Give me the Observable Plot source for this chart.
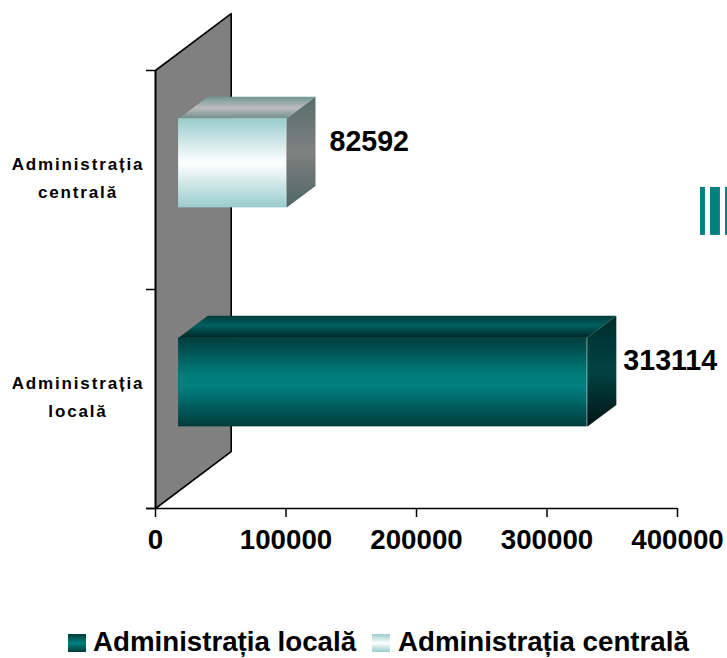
<!DOCTYPE html>
<html><head><meta charset="utf-8">
<script src="https://cdn.jsdelivr.net/npm/d3@7"></script>
<script src="https://cdn.jsdelivr.net/npm/@observablehq/plot@0.6"></script>
<style>
html,body{margin:0;padding:0;background:#fff;width:727px;overflow:hidden}
#legend{height:38px;position:relative;font:bold 27.7px "Liberation Sans",Arial,sans-serif;color:#000}
#legend span{position:absolute;top:0;line-height:44px;white-space:nowrap}
#legend i{position:absolute;top:14px;width:18px;height:18px}
.ylab text{letter-spacing:1.85px}
</style></head><body>
<div id="chart"></div>
<div id="legend"></div>
<script>
const categories = ["Administrația locală", "Administrația centrală"];
const categoryLabels = ["Administrația\nlocală", "Administrația\ncentrală"];
const values = [313114, 82592];
const xTicks = [0, 100000, 200000, 300000, 400000];
const gapValues = [7, 14];
const gradientIds = ["teal", "pale"];

const W = 727, H = 620;
const depthX = 58000, depthY = 0.26;          // oblique depth of the 3D wall, in data units
const front = 0.305, back = 0.69, half = 0.2035, slotCentre = 0.497;
const P = (v, slot, d) => ({x: v + d * depthX, y: slot + slotCentre + d * depthY});

function grad(id, stops) {
  return `<linearGradient id="${id}" x1="0" y1="0" x2="0" y2="1">` +
    stops.map(([o, c]) => `<stop offset="${o}" stop-color="${c}"/>`).join("") + `</linearGradient>`;
}
const defs = () => {
  const g = document.createElementNS("http://www.w3.org/2000/svg", "defs");
  g.innerHTML =
    grad("teal-front", [[0,"#003c3c"],[.42,"#007c7c"],[.55,"#008080"],[1,"#003c3c"]]) +
    grad("teal-top", [[0,"#003c3c"],[.45,"#006060"],[1,"#002424"]]) +
    grad("teal-side", [[0,"#002c2c"],[.5,"#004343"],[1,"#001414"]]) +
    grad("pale-front", [[0,"#99cccc"],[.5,"#ffffff"],[1,"#99cccc"]]) +
    grad("pale-top", [[0,"#6f9794"],[.5,"#bcbcbc"],[1,"#6f8f8d"]]) +
    grad("pale-side", [[0,"#566e6b"],[.5,"#808080"],[1,"#4e6764"]]);
  return g;
};

const wall = [
  {x: 0, y: 2}, {x: depthX, y: 2 + depthY}, {x: depthX, y: depthY}, {x: 0, y: 0}
];
const face = (pts, fill) => Plot.line(pts, {x: "x", y: "y", fill, stroke: "none", curve: "linear"});

const barMarks = values.flatMap((v, i) => {
  const id = gradientIds[i];
  return [
    face([P(0,i,front), P(v,i,front), P(v,i,back), P(0,i,back)].map(p => ({x: p.x, y: p.y + half})), `url(#${id}-top)`),
    face([
      {x: P(v,i,front).x, y: P(v,i,front).y + half},
      {x: P(v,i,back).x, y: P(v,i,back).y + half},
      {x: P(v,i,back).x, y: P(v,i,back).y - half},
      {x: P(v,i,front).x, y: P(v,i,front).y - half}
    ], `url(#${id}-side)`),
    Plot.rect([v], {
      x1: P(0,i,front).x, x2: P(v,i,front).x,
      y1: P(0,i,front).y - half, y2: P(0,i,front).y + half,
      fill: `url(#${id}-front)`
    })
  ];
});

const valueLabels = values.map((v, i) => Plot.text([v], {
  x: P(v,i,back).x, y: P(v,i,back).y, text: d => String(d), textAnchor: "start",
  dx: gapValues[i], fontSize: 28.6, fontWeight: "bold", fill: "#000"
}));

const chart = Plot.plot({
  width: W, height: H,
  marginLeft: 155, marginRight: 50, marginTop: 70, marginBottom: 112,
  style: {fontFamily: '"Liberation Sans",Arial,sans-serif', background: "#fff", color: "#000"},
  x: {domain: [0, 400000], axis: null},
  y: {domain: [0, 2], axis: null},
  marks: [
    defs,
    Plot.line(wall.concat(wall[0]), {x: "x", y: "y", fill: "#808080", stroke: "#000", strokeWidth: 1.6, curve: "linear"}),
    Plot.axisX({ticks: xTicks, tickSize: 9, tickPadding: 12, tickFormat: d => String(d), label: null,
      fontSize: 27.7, fontWeight: "bold", stroke: "#000", strokeWidth: 1.5}),
    Plot.axisY({ticks: [0, 1, 2], tickSize: 9, tickFormat: () => "", label: null, stroke: "#000", strokeWidth: 1.5}),
    Plot.ruleY([0], {stroke: "#000", strokeWidth: 1.6, insetLeft: -9}),
    Plot.ruleX([0], {y1: 0, y2: 2, stroke: "#000", strokeWidth: 1.6}),
    ...barMarks,
    ...valueLabels,
    Plot.text(categoryLabels, {
      y: (d, i) => i + 0.5, text: d => d, frameAnchor: "left", dx: -77.5, dy: -4.5, textAnchor: "middle",
      fontSize: 17, fontWeight: "bold", lineHeight: 1.64, fill: "#000", className: "ylab"
    }),
    Plot.rect([0, 1, 2], {
      x1: d => [417600, 425300, 436800][d], x2: d => [421400, 432900, 440000][d],
      y1: 1.247, y2: 1.466, fill: "#008080"
    })
  ]
});
document.getElementById("chart").append(chart);

const legend = document.getElementById("legend");
[["#003c3c,#008080,#003c3c", 68, 93], ["#99cccc,#ffffff,#99cccc", 372, 398]].forEach(([g, sx, tx], i) => {
  const sw = document.createElement("i");
  sw.style.left = sx + "px";
  sw.style.background = `linear-gradient(${g})`;
  const t = document.createElement("span");
  t.style.left = tx + "px";
  t.textContent = categories[i];
  legend.append(sw, t);
});
</script>
</body></html>
